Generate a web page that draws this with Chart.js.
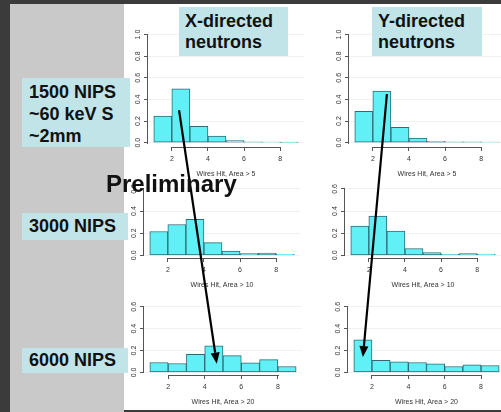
<!DOCTYPE html>
<html lang="en">
<head>
<meta charset="UTF-8">
<title>Wires hit by X- and Y-directed neutrons</title>
<script src="https://cdn.jsdelivr.net/npm/chart.js@4.4.1/dist/chart.umd.min.js"></script>
<style>
  body {
    margin: 0;
    width: 501px;
    height: 412px;
    overflow: hidden;
    position: relative;
    background: #3b3b3b;
    font-family: 'Liberation Sans', Arial, sans-serif;
  }
  .panel { position: absolute; }
  #side { left: 10px; top: 4px; width: 114px; height: 408px; background: #c9c9c9; }
  #sheet { left: 124px; top: 4px; width: 377px; height: 406px; background: #fff; }
  canvas.hist { position: absolute; }
  #arrows { position: absolute; left: 0; top: 0; pointer-events: none; }

  .tag {
    position: absolute;
    background: #c1e4e9;
    color: #111;
    font-weight: bold;
    font-size: 18px;
    padding-left: 7px;
    box-sizing: border-box;
    white-space: nowrap;
  }
  #t1500 { left: 22px; top: 78px; width: 108px; height: 69px; line-height: 22px; padding-top: 3px; }
  #t3000 { left: 22px; top: 213px; width: 106px; height: 27px; line-height: 27px; }
  #t6000 { left: 22px; top: 348px; width: 106px; height: 25px; line-height: 25px; }
  #tx { left: 179px; top: 7px; width: 109px; height: 49px; line-height: 21px; padding: 4px 0 0 6px; }
  #ty { left: 372px; top: 7px; width: 110px; height: 49px; line-height: 21px; padding: 4px 0 0 6px; }

  #prelim {
    position: absolute;
    left: 106px;
    top: 172px;
    font-size: 24px;
    line-height: 24px;
    font-weight: bold;
    color: #111;
  }
</style>
</head>
<body>

  <div class="panel" id="side"></div>
  <div class="panel" id="sheet"></div>

  <canvas id="arrows" width="501" height="412"></canvas>

  <script>
    // histogram bins: wires hit, bins of width 1 from 1 to 9
    const wireBins = [1.5, 2.5, 3.5, 4.5, 5.5, 6.5, 7.5, 8.5];
    const xTicks = [2, 4, 6, 8];
    const yTicksTall = [0, 0.2, 0.4, 0.6, 0.8, 1.0];
    const yTicksShort = [0, 0.2, 0.4, 0.6];
    const axisTitles = ['Wires Hit, Area > 5', 'Wires Hit, Area > 10', 'Wires Hit, Area > 20'];

    // fraction of events per bin
    const xDir1500 = [0.246, 0.497, 0.152, 0.062, 0.02, 0.008, 0.004, 0.003];
    const yDir1500 = [0.29, 0.478, 0.142, 0.042, 0.012, 0.008, 0.008, 0.004];
    const xDir3000 = [0.215, 0.278, 0.325, 0.115, 0.038, 0.015, 0.02, 0.008];
    const yDir3000 = [0.263, 0.355, 0.218, 0.062, 0.025, 0.01, 0.015, 0.012];
    const xDir6000 = [0.09, 0.081, 0.165, 0.243, 0.153, 0.087, 0.117, 0.054];
    const yDir6000 = [0.297, 0.111, 0.096, 0.09, 0.078, 0.054, 0.068, 0.063];

    // plot areas on the slide: left, top, right, bottom
    const panels = [
      { data: xDir1500, title: axisTitles[0], yTicks: yTicksTall,  area: [148, 29, 304, 147] },
      { data: yDir1500, title: axisTitles[0], yTicks: yTicksTall,  area: [349, 29, 505, 147] },
      { data: xDir3000, title: axisTitles[1], yTicks: yTicksShort, area: [144, 185, 300, 258] },
      { data: yDir3000, title: axisTitles[1], yTicks: yTicksShort, area: [345, 185, 501, 258] },
      { data: xDir6000, title: axisTitles[2], yTicks: yTicksShort, area: [144, 303, 302, 375] },
      { data: yDir6000, title: axisTitles[2], yTicks: yTicksShort, area: [348, 303, 505, 375] }
    ];

    // R style axes: lines only span the first to last tick
    const rAxes = {
      id: 'rAxes',
      afterDraw(chart) {
        const { ctx, chartArea: a, scales: { x, y } } = chart;
        const xt = x.ticks, yt = y.ticks;
        ctx.save();
        ctx.strokeStyle = '#555';
        ctx.lineWidth = 1;
        ctx.beginPath();
        ctx.moveTo(Math.round(x.getPixelForValue(xt[0].value)), a.bottom + 0.5);
        ctx.lineTo(Math.round(x.getPixelForValue(xt[xt.length - 1].value)) + 1, a.bottom + 0.5);
        ctx.moveTo(a.left - 0.5, Math.round(y.getPixelForValue(yt[0].value)) + 1);
        ctx.lineTo(a.left - 0.5, Math.round(y.getPixelForValue(yt[yt.length - 1].value)));
        ctx.stroke();
        ctx.restore();
      }
    };

    function makeChart(p) {
      const [L, T, R, B] = p.area;
      const c = document.createElement('canvas');
      c.className = 'hist';
      c.width = R - L + 28;
      c.height = B - T + 38;
      c.style.left = (L - 24) + 'px';
      c.style.top = (T - 4) + 'px';
      document.body.insertBefore(c, document.getElementById('arrows'));

      const ymax = p.yTicks[p.yTicks.length - 1];
      const pad = ymax * 0.04;

      return new Chart(c, {
        type: 'bar',
        data: {
          datasets: [{
            data: wireBins.map((x, i) => ({ x, y: p.data[i] })),
            backgroundColor: '#60f0f5',
            borderColor: '#2c6c74',
            borderWidth: 1,
            borderSkipped: false,
            barPercentage: 1,
            categoryPercentage: 1
          }]
        },
        options: {
          responsive: false,
          animation: false,
          devicePixelRatio: 1,
          layout: { padding: { top: 4, right: 4, left: 0, bottom: 0 } },
          plugins: { legend: { display: false }, tooltip: { enabled: false } },
          scales: {
            x: {
              type: 'linear',
              offset: false,
              min: 1 - 0.32,
              max: 9 + 0.32,
              afterBuildTicks: s => { s.ticks = xTicks.map(v => ({ value: v })); },
              afterFit: s => { s.height = 34; },
              grid: { offset: false, drawOnChartArea: false, tickLength: 4, tickColor: '#555' },
              border: { display: false },
              ticks: { autoSkip: false, maxRotation: 0, padding: 4, color: '#333', font: { size: 7 }, callback: v => String(v) },
              title: { display: true, text: p.title, color: '#333', font: { size: 7 }, padding: { top: 0, bottom: 3 } }
            },
            y: {
              min: -pad,
              max: ymax + pad,
              afterBuildTicks: s => { s.ticks = p.yTicks.map(v => ({ value: v })); },
              afterFit: s => { s.width = 24; },
              grid: { color: '#f1f1f1', tickLength: 4, tickColor: '#555' },
              border: { display: false },
              ticks: { autoSkip: false, minRotation: 90, maxRotation: 90, crossAlign: 'center', padding: 1, color: '#333', font: { size: 7 }, callback: v => v.toFixed(1) }
            }
          }
        },
        plugins: [rAxes]
      });
    }

    const charts = panels.map(makeChart);

    // arrows, anchored in the data space of the panel they start / end in
    const arrowLinks = [
      { from: [0, 2.4, 0.30], to: [4, 4.66, 0.08] },
      { from: [1, 2.78, 0.45], to: [5, 1.5, 0.14] }
    ];

    function pagePoint([ci, x, y]) {
      const ch = charts[ci];
      return [ch.canvas.offsetLeft + ch.scales.x.getPixelForValue(x),
              ch.canvas.offsetTop + ch.scales.y.getPixelForValue(y)];
    }

    const actx = document.getElementById('arrows').getContext('2d');
    actx.strokeStyle = '#000';
    actx.fillStyle = '#000';
    actx.lineWidth = 2.2;
    arrowLinks.forEach(a => {
      const [x0, y0] = pagePoint(a.from);
      const [x1, y1] = pagePoint(a.to);
      const ang = Math.atan2(y1 - y0, x1 - x0);
      const len = 11, half = 4.5;
      const bx = x1 - len * Math.cos(ang), by = y1 - len * Math.sin(ang);
      actx.beginPath();
      actx.moveTo(x0, y0);
      actx.lineTo(bx, by);
      actx.stroke();
      actx.beginPath();
      actx.moveTo(x1, y1);
      actx.lineTo(bx + half * Math.sin(ang), by - half * Math.cos(ang));
      actx.lineTo(bx - half * Math.sin(ang), by + half * Math.cos(ang));
      actx.closePath();
      actx.fill();
    });
  </script>

  <div class="tag" id="t1500">1500 NIPS<br>~60 keV S<br>~2mm</div>
  <div class="tag" id="t3000">3000 NIPS</div>
  <div class="tag" id="t6000">6000 NIPS</div>
  <div class="tag" id="tx">X-directed<br>neutrons</div>
  <div class="tag" id="ty">Y-directed<br>neutrons</div>
  <div id="prelim">Preliminary</div>

</body>
</html>
